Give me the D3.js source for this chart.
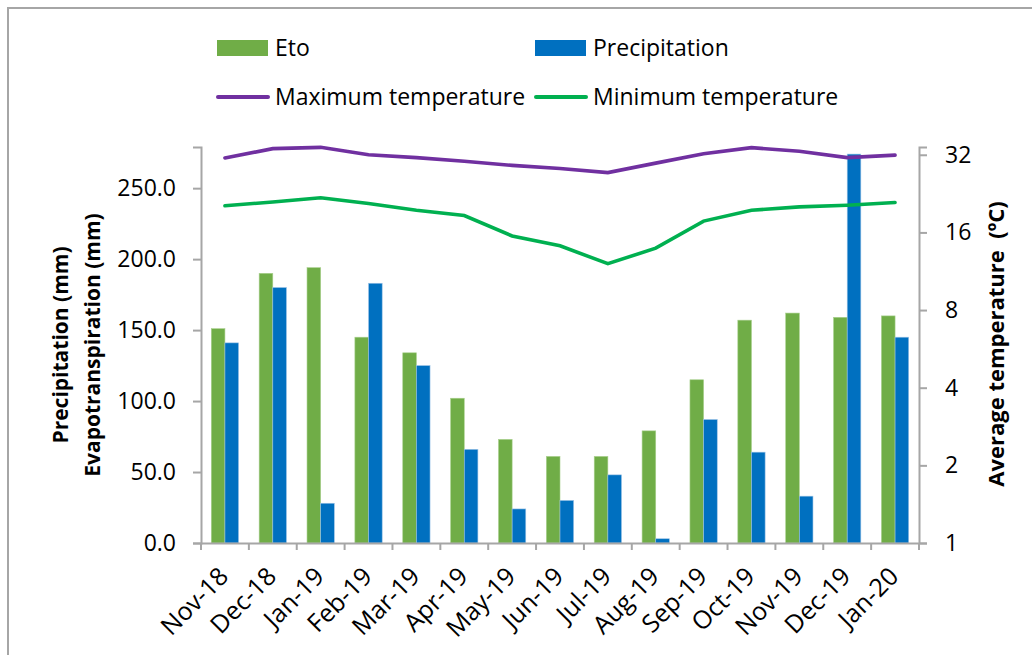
<!DOCTYPE html>
<html>
<head>
<meta charset="utf-8">
<script src="https://cdn.jsdelivr.net/npm/d3@7"></script>
<style>
  body { margin: 0; background: #fff; }
  text { font-family: "Open Sans", sans-serif; fill: #000; }
</style>
</head>
<body>
<svg id="chart" width="1032" height="655"></svg>
<script>
// monthly values
const months = ["Nov-18", "Dec-18", "Jan-19", "Feb-19", "Mar-19", "Apr-19", "May-19", "Jun-19",
                "Jul-19", "Aug-19", "Sep-19", "Oct-19", "Nov-19", "Dec-19", "Jan-20"];
const eto = [151, 190, 194, 145, 134, 102, 73, 61, 61, 79, 115, 157, 162, 159, 160];
const precipitation = [141, 180, 28, 183, 125, 66, 24, 30, 48, 3, 87, 64, 33, 274, 145];
const maxTemp = [31.1, 33.8, 34.2, 32.0, 31.2, 30.2, 29.1, 28.3, 27.3, 29.7, 32.3, 34.1, 33.0, 31.2, 31.9];
const minTemp = [20.3, 21.0, 21.8, 20.7, 19.5, 18.6, 15.5, 14.2, 12.1, 13.9, 17.7, 19.5, 20.1, 20.4, 20.9];
const leftTicks = [0, 50, 100, 150, 200, 250];
const rightTicks = [1, 2, 4, 8, 16, 32];

const svg = d3.select("#chart");
const margin = {left: 201, right: 919, top: 147, bottom: 543};

// outer frame
svg.append("rect")
    .attr("x", 8).attr("y", 8)
    .attr("width", 1040).attr("height", 660)
    .attr("fill", "none")
    .attr("stroke", "#a6a6a6")
    .attr("stroke-width", 2);

const x = d3.scaleBand()
    .domain(months)
    .range([margin.left, margin.right]);

const y = d3.scaleLinear()
    .domain([0, 279])
    .range([margin.bottom, margin.top]);

const y2 = d3.scaleLog()
    .base(2)
    .domain([1, 34.3])
    .range([margin.bottom, margin.top]);

const barW = x.bandwidth() * 0.285;

// bars
const g = svg.append("g");
g.selectAll(".eto")
  .data(eto)
  .join("rect")
    .attr("class", "eto")
    .attr("x", (d, i) => x(months[i]) + x.bandwidth() / 2 - barW)
    .attr("y", d => y(d))
    .attr("width", barW)
    .attr("height", d => y(0) - y(d))
    .attr("fill", "#70ad47")
    .attr("stroke", "#a9d08e")
    .attr("stroke-width", 0.6);

g.selectAll(".prec")
  .data(precipitation)
  .join("rect")
    .attr("class", "prec")
    .attr("x", (d, i) => x(months[i]) + x.bandwidth() / 2)
    .attr("y", d => y(d))
    .attr("width", barW)
    .attr("height", d => y(0) - y(d))
    .attr("fill", "#0070c0")
    .attr("stroke", "#9dc3e6")
    .attr("stroke-width", 0.6);

// lines
const line = d3.line()
    .x((d, i) => x(months[i]) + x.bandwidth() / 2)
    .y(d => y2(d));

g.append("path")
    .datum(maxTemp)
    .attr("d", line)
    .attr("fill", "none")
    .attr("stroke", "#7030a0")
    .attr("stroke-width", 3.6)
    .attr("stroke-linecap", "round");

g.append("path")
    .datum(minTemp)
    .attr("d", line)
    .attr("fill", "none")
    .attr("stroke", "#00b050")
    .attr("stroke-width", 3.6)
    .attr("stroke-linecap", "round");

// axes
const left = svg.append("g")
    .attr("transform", "translate(" + margin.left + ",0)")
    .call(d3.axisLeft(y).tickValues(leftTicks).tickFormat(d3.format(".1f")).tickSize(8).tickPadding(17));

const right = svg.append("g")
    .attr("transform", "translate(" + margin.right + ",0)")
    .call(d3.axisRight(y2).tickValues(rightTicks).tickFormat(d3.format("d")).tickSize(8).tickPadding(18));

const bottom = svg.append("g")
    .attr("transform", "translate(0," + margin.bottom + ")")
    .call(d3.axisBottom(x).tickSize(0).tickFormat(""));

// category boundary ticks
bottom.selectAll(".sep")
  .data(months.concat([null]))
  .join("line")
    .attr("x1", (d, i) => margin.left + i * x.step())
    .attr("x2", (d, i) => margin.left + i * x.step())
    .attr("y1", 0)
    .attr("y2", 7);

[left, right, bottom].forEach(a => {
  a.select(".domain").attr("stroke", "#a6a6a6").attr("stroke-width", 2);
  a.selectAll("line").attr("stroke", "#a6a6a6").attr("stroke-width", 2);
  a.selectAll("text").attr("font-size", 23).attr("font-family", "Open Sans");
});

// rotated month labels
svg.append("g")
  .selectAll("text")
  .data(months)
  .join("text")
    .attr("transform", d => "translate(" + (x(d) + x.bandwidth() / 2 + 5) + ",578) rotate(-45)")
    .attr("text-anchor", "end")
    .attr("font-size", 25)
    .text(d => d);

// axis titles
const lt = svg.append("text")
    .attr("transform", "translate(68,345) rotate(-90)")
    .attr("text-anchor", "middle")
    .attr("font-size", 21)
    .attr("font-weight", "bold");
lt.append("tspan").attr("x", 0).attr("dy", 0).text("Precipitation (mm)");
lt.append("tspan").attr("x", 0).attr("dy", 32).text("Evapotranspiration (mm)");

svg.append("text")
    .attr("transform", "translate(1004,344) rotate(-90)")
    .attr("text-anchor", "middle")
    .attr("font-size", 22)
    .attr("font-weight", "bold")
    .attr("xml:space", "preserve")
    .text("Average temperature  (ºC)");

// legend
const legend = [
  {name: "Eto", color: "#70ad47", type: "rect", x: 217, y: 48},
  {name: "Precipitation", color: "#0070c0", type: "rect", x: 535, y: 48},
  {name: "Maximum temperature", color: "#7030a0", type: "line", x: 217, y: 97},
  {name: "Minimum temperature", color: "#00b050", type: "line", x: 535, y: 97}
];

const lg = svg.append("g").selectAll("g")
  .data(legend)
  .join("g")
    .attr("transform", d => "translate(" + d.x + "," + d.y + ")");

lg.filter(d => d.type === "rect").append("rect")
    .attr("x", 0).attr("y", -8)
    .attr("width", 51).attr("height", 16)
    .attr("fill", d => d.color);

lg.filter(d => d.type === "line").append("line")
    .attr("x1", 1).attr("x2", 51)
    .attr("y1", 0).attr("y2", 0)
    .attr("stroke", d => d.color)
    .attr("stroke-width", 4)
    .attr("stroke-linecap", "round");

lg.append("text")
    .attr("x", 58)
    .attr("y", 8)
    .attr("font-size", 23)
    .text(d => d.name);
</script>
</body>
</html>
